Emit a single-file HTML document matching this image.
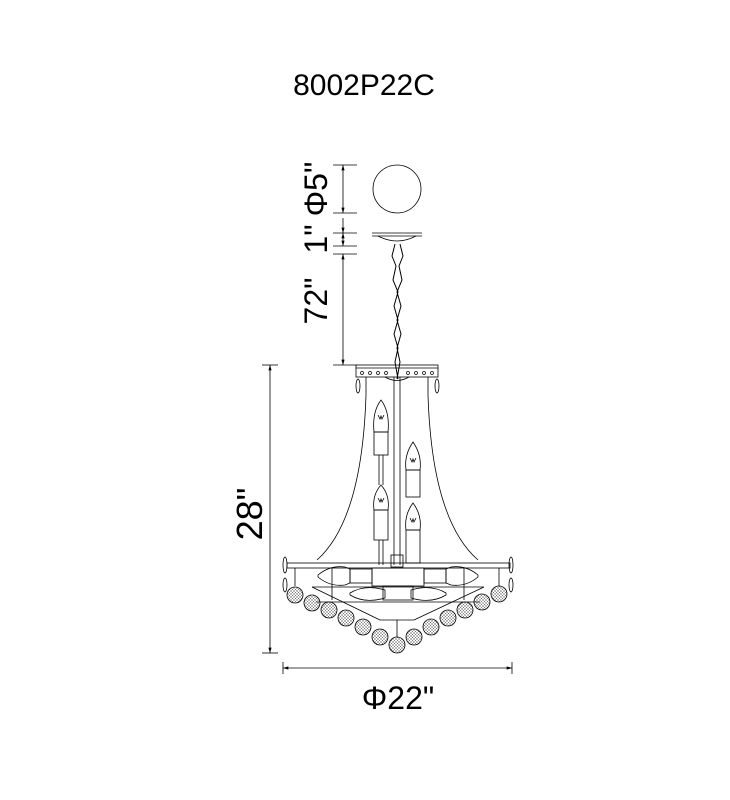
<!DOCTYPE html>
<html><head><meta charset="utf-8"><style>
html,body{margin:0;padding:0;background:#fff;}
svg{display:block;}
text{font-family:"Liberation Sans",sans-serif;fill:#000;}
</style></head><body>
<svg width="730" height="800" viewBox="0 0 730 800" xmlns="http://www.w3.org/2000/svg">
<defs>
<pattern id="mesh" width="3" height="3" patternUnits="userSpaceOnUse">
<path d="M0 0L3 3M3 0L0 3" stroke="#555" stroke-width="0.4"/>
</pattern>
<marker id="ar" viewBox="0 0 10 6" refX="10" refY="3" markerWidth="8" markerHeight="4" orient="auto-start-reverse">
<path d="M0 0L10 3L0 6z" fill="#000"/>
</marker>
</defs>
<text x="364" y="95" font-size="30" text-anchor="middle">8002P22C</text>

<g stroke="#000" stroke-width="0.8" fill="none">
<line x1="333" y1="165" x2="357" y2="165"/>
<line x1="333" y1="213" x2="357" y2="213"/>
<line x1="333" y1="233" x2="357" y2="233"/>
<line x1="333" y1="246" x2="357" y2="246"/>
<line x1="333" y1="254" x2="357" y2="254"/>
<line x1="333" y1="365" x2="357" y2="365"/>
<line x1="343" y1="165" x2="343" y2="213" marker-start="url(#ar)" marker-end="url(#ar)"/>
<line x1="343" y1="218" x2="343" y2="233" marker-end="url(#ar)"/>
<line x1="343" y1="233" x2="343" y2="246" marker-start="url(#ar)" marker-end="url(#ar)"/>
<line x1="343" y1="254" x2="343" y2="365" marker-start="url(#ar)" marker-end="url(#ar)"/>
<circle cx="397" cy="189" r="24"/>
<line x1="372" y1="233" x2="422" y2="233"/>
<line x1="372" y1="236" x2="422" y2="236"/>
<path d="M378 236Q397 246 416 236"/>
<path d="M395 244l-3 12 4 10-3 14 5 12-4 14 4 14-4 14 4 14-3 14 3 17" stroke-width="1"/>
<path d="M400 244l3 12-4 10 3 14-5 12 4 14-4 14 4 14-4 14 3 14-3 17" stroke-width="1"/>
<line x1="262" y1="365" x2="278" y2="365"/>
<line x1="262" y1="653" x2="278" y2="653"/>
<line x1="270" y1="365" x2="270" y2="653" marker-start="url(#ar)" marker-end="url(#ar)"/>
<line x1="283" y1="662" x2="283" y2="674"/>
<line x1="512" y1="662" x2="512" y2="674"/>
<line x1="283" y1="668" x2="512" y2="668" marker-start="url(#ar)" marker-end="url(#ar)"/>

<rect x="356" y="365" width="82" height="12"/>
<line x1="356" y1="368" x2="438" y2="368"/>
<g stroke-width="0.7">
<circle cx="362" cy="373" r="1.5"/><circle cx="370" cy="373" r="1.5"/><circle cx="378" cy="373" r="1.5"/><circle cx="386" cy="373" r="1.5"/><circle cx="408" cy="373" r="1.5"/><circle cx="416" cy="373" r="1.5"/><circle cx="424" cy="373" r="1.5"/><circle cx="432" cy="373" r="1.5"/>
</g>
<path d="M385 377Q397 384 409 377"/>
<ellipse cx="358" cy="386" rx="2" ry="7"/><ellipse cx="437" cy="386" rx="2" ry="7"/>
<path d="M366 377L366 395Q362 520 317 560"/>
<path d="M428 377L428 395Q432 520 478 560"/>
<line x1="394" y1="377" x2="394" y2="565"/><line x1="400" y1="377" x2="400" y2="565"/>
<rect x="391" y="555" width="12" height="12"/>
<path d="M381 400Q372 412 374 432L388 432Q390 412 381 400z"/>
<path d="M378 415l2 4 1-3 1 3 2-4"/>
<rect x="374" y="432" width="14" height="23"/>
<line x1="379" y1="455" x2="379" y2="485"/><line x1="383" y1="455" x2="383" y2="485"/>
<path d="M381 485Q372 495 374 510L388 510Q390 495 381 485z"/>
<path d="M378 498l2 4 1-3 1 3 2-4"/>
<rect x="374" y="510" width="14" height="30"/>
<line x1="379" y1="540" x2="379" y2="565"/><line x1="383" y1="540" x2="383" y2="565"/>
<path d="M413 442Q404 455 406 470L420 470Q422 455 413 442z"/>
<path d="M410 458l2 4 1-3 1 3 2-4"/>
<rect x="406" y="470" width="14" height="27"/>
<path d="M413 503Q404 515 406 530L420 530Q422 515 413 503z"/>
<path d="M410 518l2 4 1-3 1 3 2-4"/>
<rect x="406" y="530" width="14" height="33"/>
<rect x="287" y="563" width="223" height="5"/>
<ellipse cx="285" cy="565" rx="2" ry="8"/><ellipse cx="511" cy="565" rx="2" ry="8"/>
<ellipse cx="285" cy="585" rx="2" ry="7"/><ellipse cx="511" cy="585" rx="2" ry="7"/>
<line x1="295" y1="568" x2="295" y2="586"/><line x1="499" y1="568" x2="499" y2="586"/>
<path d="M318 575Q330 565 345 567L350 569L350 583L345 585Q330 587 318 577z"/>
<rect x="350" y="569" width="22" height="14"/>
<path d="M478 575Q466 565 451 567L446 569L446 583L451 585Q466 587 478 577z"/>
<rect x="424" y="569" width="22" height="14"/>
<rect x="372" y="568" width="52" height="18"/>
<line x1="332" y1="568" x2="332" y2="600"/><line x1="464" y1="568" x2="464" y2="600"/>
<rect x="383" y="586" width="30" height="14"/>
<path d="M350 593Q365 584 385 590L385 598Q365 604 350 595z"/>
<path d="M446 593Q431 584 411 590L411 598Q431 604 446 595z"/>
<line x1="312" y1="587" x2="484" y2="587"/>
<line x1="316" y1="602" x2="480" y2="602"/>
<line x1="312" y1="587" x2="380" y2="620"/><line x1="484" y1="587" x2="414" y2="620"/>
<line x1="380" y1="620" x2="414" y2="620"/>
<line x1="397" y1="620" x2="397" y2="637"/>
</g>
<g stroke="#000" stroke-width="0.8" fill="url(#mesh)">
<circle cx="295" cy="595" r="8"/><circle cx="312" cy="603" r="8"/><circle cx="329" cy="610" r="8"/><circle cx="346" cy="618" r="8"/><circle cx="363" cy="627" r="8"/><circle cx="380" cy="637" r="8"/><circle cx="397" cy="645" r="8"/><circle cx="414" cy="637" r="8"/><circle cx="431" cy="627" r="8"/><circle cx="448" cy="618" r="8"/><circle cx="465" cy="610" r="8"/><circle cx="482" cy="602" r="8"/><circle cx="499" cy="594" r="8"/>
</g>

<text transform="translate(327,189) rotate(-90)" font-size="32" text-anchor="middle">Φ5"</text>
<text transform="translate(327,239) rotate(-90)" font-size="32" text-anchor="middle">1"</text>
<text transform="translate(327,301) rotate(-90)" font-size="32" text-anchor="middle">72"</text>
<text transform="translate(262,514) rotate(-90)" font-size="36" text-anchor="middle">28"</text>
<text x="398" y="709" font-size="32" text-anchor="middle">Φ22"</text>
</svg>
</body></html>
